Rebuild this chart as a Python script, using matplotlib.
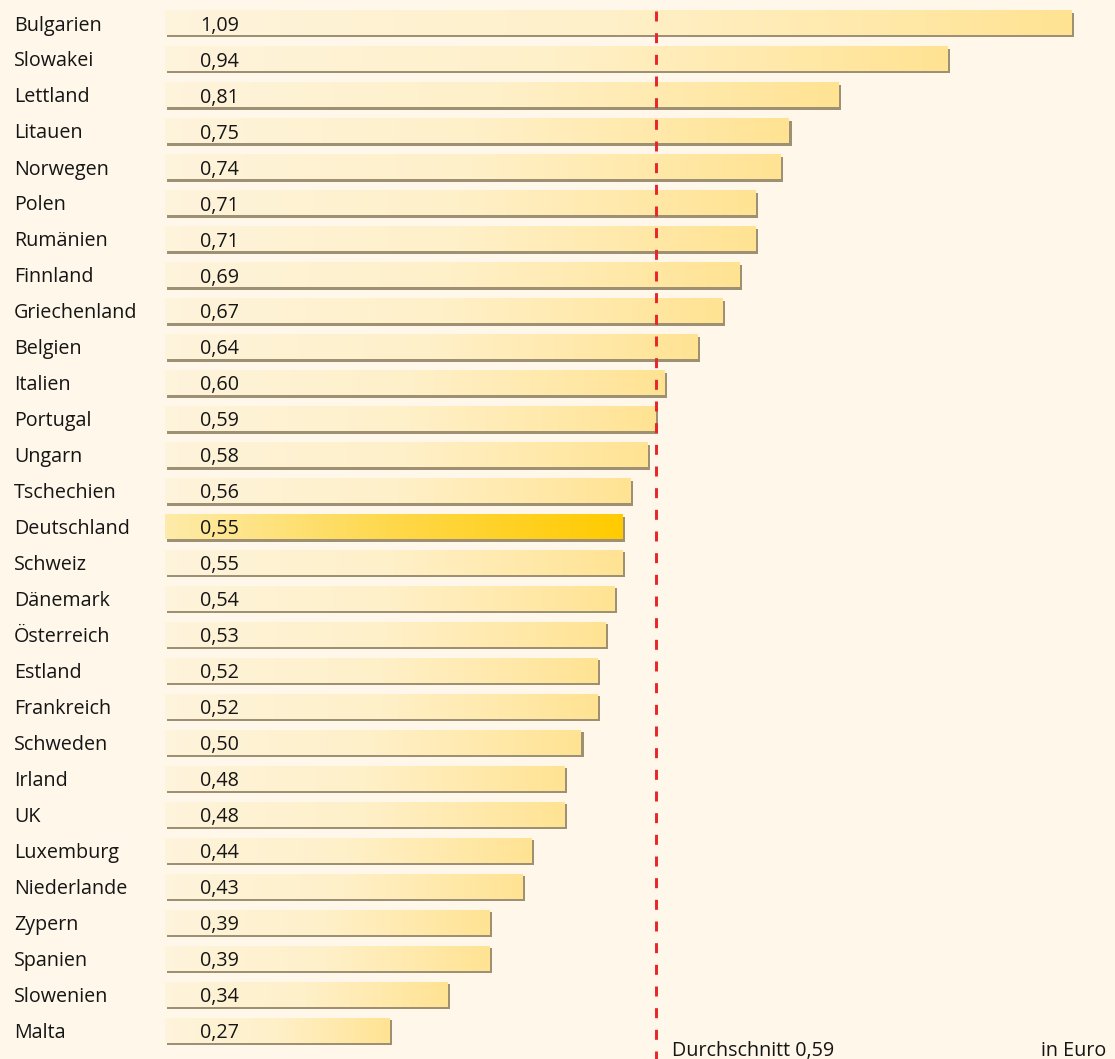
import matplotlib
matplotlib.use("Agg")
import matplotlib.pyplot as plt
import numpy as np
from matplotlib.patches import Rectangle
from matplotlib.colors import LinearSegmentedColormap

countries = ["Bulgarien", "Slowakei", "Lettland", "Litauen", "Norwegen", "Polen",
             "Rumänien", "Finnland", "Griechenland", "Belgien", "Italien", "Portugal",
             "Ungarn", "Tschechien", "Deutschland", "Schweiz", "Dänemark", "Österreich",
             "Estland", "Frankreich", "Schweden", "Irland", "UK", "Luxemburg",
             "Niederlande", "Zypern", "Spanien", "Slowenien", "Malta"]
values = [1.09, 0.94, 0.81, 0.75, 0.74, 0.71, 0.71, 0.69, 0.67, 0.64, 0.60, 0.59,
          0.58, 0.56, 0.55, 0.55, 0.54, 0.53, 0.52, 0.52, 0.50, 0.48, 0.48, 0.44,
          0.43, 0.39, 0.39, 0.34, 0.27]
highlight = "Deutschland"
average = 0.59
avg_label = "Durchschnitt 0,59"
unit_label = "in Euro"

plt.rcParams['font.family'] = ['Open Sans', 'DejaVu Sans']
plt.rcParams['lines.scale_dashes'] = False

W, H = 1115, 1059
fig = plt.figure(figsize=(W / 100, H / 100), dpi=100)
bg = '#FEF7EA'
fig.patch.set_facecolor(bg)
ax = fig.add_axes([0, 0, 1, 1])
ax.set_facecolor(bg)

x0px, ppu = 165.0, 832.0
y0px, rowpx = 22.5, 36.0
ax.axis('off')

bh = 25.0 / rowpx
dx, dy = 2.5 / ppu, 2.5 / rowpx
fs = 14.2
base = 8.0 / rowpx

cm_norm = LinearSegmentedColormap.from_list('n', ['#FEF4DC', '#FFF0C8', '#FFE393'])
cm_hi = LinearSegmentedColormap.from_list('h', ['#FEEBAA', '#FFD84A', '#FFCB00'])
grad = np.linspace(0, 1, 256).reshape(1, -1)

for i, (c, v) in enumerate(zip(countries, values)):
    top = i - bh / 2
    ax.add_patch(Rectangle((dx, top + dy), v, bh, facecolor='#8C7E5E', edgecolor='none',
                           alpha=0.85, zorder=1))
    cmap = cm_hi if c == highlight else cm_norm
    ax.imshow(grad, cmap=cmap, aspect='auto', extent=[0, v, top + bh, top],
              interpolation='bilinear', zorder=2)
    ax.text(-151 / ppu, i + base, c, fontsize=fs, color='#151515', va='baseline', ha='left')
    ax.text(35 / ppu, i + base, f"{v:.2f}".replace('.', ','), fontsize=fs, color='#151515',
            va='baseline', ha='left', zorder=3)

ln, = ax.plot([average, average], [(11 - y0px) / rowpx, (H - y0px) / rowpx],
              color='#E8242A', lw=2.1, zorder=4)
ln.set_dashes([7.2, 8.4])
ln.set_solid_capstyle('butt')

ax.set_xlim(-x0px / ppu, (W - x0px) / ppu)
ax.set_ylim((H - y0px) / rowpx, -y0px / rowpx)

ax.text((672 - x0px) / ppu, (1056 - y0px) / rowpx, avg_label, fontsize=fs,
        color='#151515', va='baseline', ha='left')
ax.text((1106 - x0px) / ppu, (1056 - y0px) / rowpx, unit_label, fontsize=fs,
        color='#151515', va='baseline', ha='right')

fig.savefig('out.png', dpi=100, facecolor=bg)
